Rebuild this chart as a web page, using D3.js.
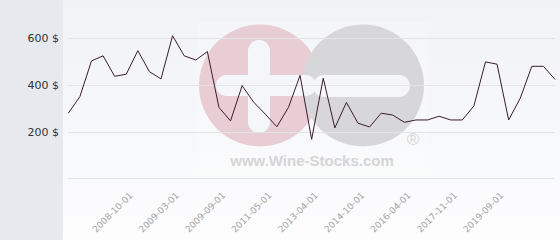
<!DOCTYPE html>
<html>
<head>
<meta charset="utf-8">
<script src="https://cdn.jsdelivr.net/npm/d3@7"></script>
<style>
  body { margin: 0; background: #fff; }
  svg { display: block; }
</style>
</head>
<body>
<div id="chart"></div>
<script>
// price series, one value per category (index 0..42)
var prices = [279, 350, 503, 525, 437, 446, 547, 457, 426, 611,
              525, 507, 543, 304, 246, 397, 326, 275, 221, 304,
              441, 167, 429, 216, 325, 236, 220, 279, 271, 240,
              250, 250, 266, 250, 250, 310, 499, 489, 250, 343,
              480, 480, 424];
var tickIdx = [5, 9, 13, 17, 21, 25, 29, 33, 37];
var tickLabels = ["2008-10-01", "2009-03-01", "2009-09-01", "2011-05-01", "2013-04-01",
                  "2014-10-01", "2016-04-01", "2017-11-01", "2019-09-01"];
var yTicks = [0, 200, 400, 600];

var W = 560, H = 240;
var svg = d3.select("#chart").append("svg")
    .attr("width", W)
    .attr("height", H);

// backgrounds
var defs = svg.append("defs");
var grad = defs.append("linearGradient")
    .attr("id", "bg").attr("x1", 0).attr("y1", 0).attr("x2", 0).attr("y2", 1);
grad.append("stop").attr("offset", "0%").attr("stop-color", "#f0f2f6");
grad.append("stop").attr("offset", "100%").attr("stop-color", "#fdfdfe");

svg.append("rect").attr("x", 63).attr("y", 0).attr("width", W - 63).attr("height", H)
    .attr("fill", "url(#bg)");
svg.append("rect").attr("x", 0).attr("y", 0).attr("width", 63).attr("height", H)
    .attr("fill", "#e6eaee");

var x = d3.scalePoint()
    .domain(d3.range(prices.length))
    .range([68.3, 555]);
var y = d3.scaleLinear()
    .domain([0, 600])
    .range([178.3, 38.3]);

// watermark
var wm = svg.append("g");
wm.append("rect").attr("x", 197).attr("y", 22).attr("width", 231).attr("height", 154)
    .attr("fill", "#fff").attr("opacity", 0.2);
wm.append("circle").attr("cx", 260).attr("cy", 85.5).attr("r", 61).attr("fill", "#e9cdd4");
wm.append("circle").attr("cx", 363).attr("cy", 85.5).attr("r", 61).attr("fill", "#d7d7d9");
// plus sign
wm.append("rect").attr("x", 248).attr("y", 40).attr("width", 22).attr("height", 93)
    .attr("rx", 11).attr("fill", "#f5f6f9");
wm.append("rect").attr("x", 216).attr("y", 75).attr("width", 100).attr("height", 21)
    .attr("rx", 10).attr("fill", "#f5f6f9");
// minus sign
wm.append("rect").attr("x", 313).attr("y", 75).attr("width", 97).attr("height", 22)
    .attr("rx", 11).attr("fill", "#f5f6f9");
wm.append("text").attr("x", 312).attr("y", 166)
    .attr("text-anchor", "middle")
    .style("font-family", "Liberation Sans, Arial, sans-serif")
    .style("font-size", "15px").style("font-weight", "bold")
    .attr("fill", "#d5d5d7")
    .text("www.Wine-Stocks.com");
wm.append("text").attr("x", 413).attr("y", 145)
    .attr("text-anchor", "middle")
    .style("font-family", "Liberation Sans, Arial, sans-serif")
    .style("font-size", "17px")
    .attr("fill", "#d5d5d7")
    .text("®");

// grid lines
svg.append("g").selectAll("line")
    .data(yTicks)
    .enter().append("line")
    .attr("x1", 68).attr("x2", 555)
    .attr("y1", function (d) { return Math.round(y(d)) + 0.5; })
    .attr("y2", function (d) { return Math.round(y(d)) + 0.5; })
    .attr("stroke", "#e2e3e6");

// y labels (first one hidden)
svg.append("g").selectAll("text")
    .data(yTicks.slice(1))
    .enter().append("text")
    .attr("x", 59)
    .attr("y", function (d) { return y(d) + 4; })
    .attr("text-anchor", "end")
    .style("font-family", "DejaVu Sans, Verdana, sans-serif")
    .style("font-size", "11px")
    .attr("fill", "#333")
    .text(function (d) { return d + " $"; });

// x labels
svg.append("g").selectAll("text")
    .data(tickIdx)
    .enter().append("text")
    .attr("transform", function (d) { return "translate(" + (x(d) + 7) + ",196) rotate(-45)"; })
    .attr("text-anchor", "end")
    .style("font-family", "DejaVu Sans, Verdana, sans-serif")
    .style("font-size", "9px")
    .attr("fill", "#a3a3a3")
    .text(function (d, i) { return tickLabels[i]; });

// price line
var line = d3.line()
    .x(function (d, i) { return x(i); })
    .y(function (d) { return y(d); });
svg.append("path")
    .datum(prices)
    .attr("d", line)
    .attr("fill", "none")
    .attr("stroke", "#3a1d2c")
    .attr("stroke-width", 1);
</script>
</body>
</html>
